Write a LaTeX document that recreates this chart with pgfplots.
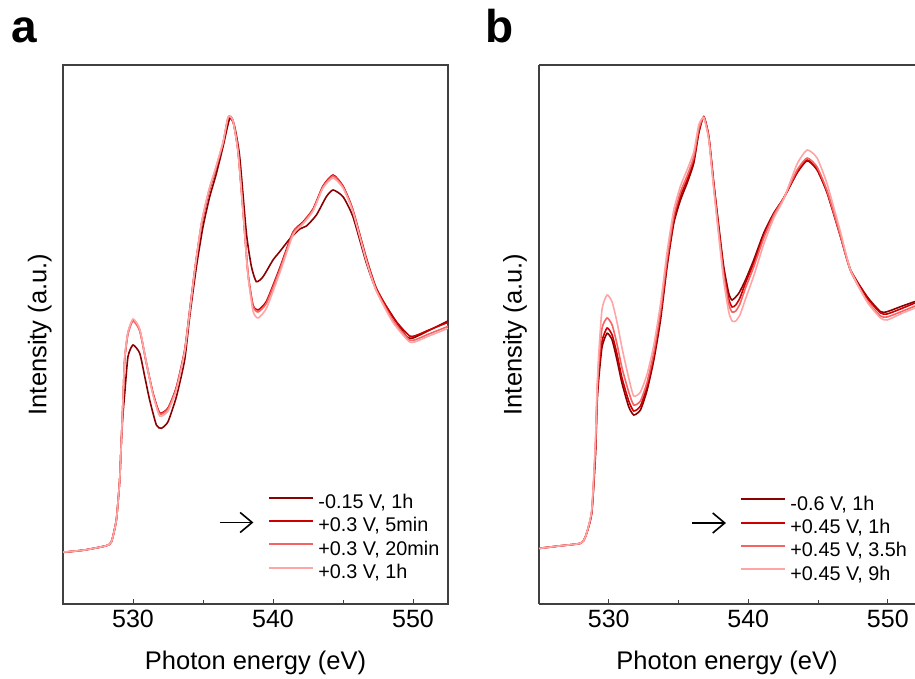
\documentclass[border=0pt]{standalone}
\usepackage{pgfplots}
\pgfplotsset{compat=1.18}
\usepackage{pgfplotstable}
\usepackage{fontspec}
\setmainfont{Liberation Sans}
\usetikzlibrary{arrows.meta}

\definecolor{cdark}{RGB}{139,0,0}
\definecolor{cred}{RGB}{204,0,0}
\definecolor{csalmon}{RGB}{245,100,100}
\definecolor{cpink}{RGB}{255,165,165}

% Panel a: -0.15 V, 1h
\pgfplotstableread{
x y
525.0 51.7
526.55 54
528.10 58.3
528.46 62.3
528.81 84
529.05 124
529.17 164
529.29 191
529.41 210.7
529.64 247.3
530.0 259
530.48 250.7
530.84 227.3
531.19 204
531.67 179
532.03 175.7
532.50 182.3
533.10 207.3
533.69 244
534.05 287.3
534.53 337.3
535.00 377.3
535.48 407.3
535.96 430.7
536.43 457.3
536.91 485.7
537.26 477.3
537.62 447.3
538.10 370.7
538.46 337.3
538.81 322.3
539.29 327.3
540.0 344
540.48 352.3
541.19 365
541.91 375
542.39 378
543.10 389
543.81 407.3
544.29 414
545.0 407.3
545.71 387.3
546.67 341
547.38 314
548.57 287.3
549.54 267.3
550.0 266
550.96 272.3
552.39 282.3
552.5 283
}\tabAdark

% Panel a: +0.3 V, 5min / 20min / 1h
\pgfplotstableread{
x a b c
525.0 51.7 51.5 51.9
526.55 54 54 54
528.10 58.3 58.3 58.3
528.46 62.3 62.3 62.3
528.81 84 84 84
529.05 124 124 124
529.17 164 164 164
529.29 205 205 205
529.41 245 246 247
529.64 271 270 272
530.0 284 283 285
530.48 274 273 275
530.96 241 240 241
531.43 211 210 209
531.91 191 190 188
532.50 196 195 193
533.10 217 216 214
533.69 254 253 252
534.05 294 293 292
534.45 338 338 338
534.90 380 381 382
535.40 411 412 413
535.90 434 435 436
536.43 460 461 462
536.80 486 487 487
537.14 483 484 483
537.50 453 454 452
537.86 393 394 392
538.21 331 331 329
538.57 299 298 293
538.93 294 292 286
539.54 303 301 296
540.48 336 334 331
541.43 372 371 369
542.14 382 381 380
542.86 395 394 393
543.57 418 417 416
544.29 429 428 426
545.00 418 417 416
545.69 395 394 393
546.67 346 344 343
547.38 316 314 313
548.55 287 284 282
549.76 268 264 262
550.48 270 266 264
550.96 273 269 267
552.39 281 277 275
552.5 282 278 276
}\tabAlight

% Panel b: -0.6 V, 1h
\pgfplotstableread{
x y
525.0 55.7
526.42 58
527.97 60.7
528.33 67.3
528.78 91
529.05 150
529.16 200
529.28 225
529.52 257.3
529.88 270.7
530.24 264
530.59 244
530.95 220.7
531.43 197.3
531.79 189
532.27 194
532.75 214
533.23 244
533.71 284
534.18 337.3
534.66 380.7
535.14 404
535.61 420.7
536.09 440.7
536.45 470.7
536.81 487.3
537.17 467.3
537.53 420.7
537.89 377.3
538.24 337.3
538.60 310.7
538.84 304
539.32 310.7
539.80 324
540.39 344
541.11 371
541.83 391
542.54 406
543.50 431
544.22 443.3
544.93 434
545.65 411
546.61 367.3
547.33 334
548.52 307.3
549.48 292.3
549.95 292.3
550.91 297.3
551.95 302.5
}\tabBdark

% Panel b: +0.45 V, 1h / 3.5h / 9h
\pgfplotstableread{
x a b c
525.0 55.5 55.5 55.5
526.42 58 58 58
527.97 60.7 60.7 60.7
528.33 67.3 67.3 67.3
528.78 92 93 94
529.05 155 160 165
529.16 205 210 215
529.28 232 240 250
529.52 263 276 295
529.88 276 286 309
530.24 269 279 302
530.59 250 260 282
530.95 226 236 256
531.43 203 212 226
531.79 193 199 208
532.27 198 203 212
532.75 218 222 230
533.23 248 252 259
533.71 289 293 300
534.18 341 345 352
534.66 384 388 394
535.14 408 412 418
535.61 424 428 434
536.09 444 447 452
536.45 473 475 479
536.81 487 487 486
537.17 467 466 464
537.53 419 417 414
537.89 374 371 367
538.24 333 329 323
538.60 305 300 292
538.84 297 292 283
539.10 299 293 283
539.40 306 300 289
539.80 321 316 305
540.39 341 337 328
541.11 369 366 360
541.83 390 389 386
542.54 406 406 405
543.50 432 434 440
544.22 444 446 454
544.93 435 437 446
545.65 412 413 420
546.61 368 368 372
547.33 334 333 334
548.52 306 303 302
549.48 291 288 286
549.95 290 287 284
550.91 295 292 290
551.95 301 298 296
}\tabBlight

\pgfplotsset{
  panel/.style={
    scale only axis,
    height=269.5pt,
    ymin=0, ymax=539,
    ytick=\empty,
    xtick={530,540,550},
    minor xtick={535,545},
    xtick pos=left,
    tick align=inside,
    major tick length=2.5pt,
    minor tick length=2pt,
    axis line style={black!75, line width=0.6pt},
    every tick/.style={black!75, line width=0.5pt},
    /pgf/number format/assume math mode=true,
    ticklabel style={font=\fontsize{12.5}{14}\selectfont},
    xticklabel style={anchor=base, yshift=-12pt},
    xlabel={Photon energy (eV)},
    ylabel={Intensity (a.u.)},
    label style={font=\fontsize{12.75}{14}\selectfont},
    xlabel style={at={(axis description cs:0.5,0)}, anchor=base, yshift=-33pt},
    legend cell align=left,
    legend style={draw=none, fill=none, inner sep=0pt, outer sep=0pt,
      row sep=2.7pt, column sep=2.4pt,
      font=\fontsize{9.9}{12}\selectfont,
      nodes={inner sep=0pt, text height=7pt, text depth=2pt}},
    legend image code/.code={\draw[##1, line width=1pt] (0pt,3pt) -- (21.8pt,3pt);},
    every axis plot/.append style={line width=0.8pt, smooth, tension=0.35},
  }
}

\begin{document}
\begin{tikzpicture}
\useasboundingbox (0,0) rectangle (457.5pt,339.5pt);

\begin{axis}[panel,
  at={(31.5pt,37.5pt)}, anchor=south west,
  width=192.5pt,
  xmin=525, xmax=552.5,
  ylabel style={at={(axis description cs:-0.06,0.5)}, anchor=center},
  legend style={at={(rel axis cs:0.5325,0.203)}, anchor=north west},
]
\addplot[color=cdark] table[x=x,y=y] {\tabAdark};
\addlegendentry{-0.15 V, 1h}
\addplot[color=cred] table[x=x,y=a] {\tabAlight};
\addlegendentry{+0.3 V, 5min}
\addplot[color=csalmon] table[x=x,y=b] {\tabAlight};
\addlegendentry{+0.3 V, 20min}
\addplot[color=cpink] table[x=x,y=c] {\tabAlight};
\addlegendentry{+0.3 V, 1h}
\draw[-{Straight Barb[length=6pt,width=10pt]}, line width=0.8pt] (axis cs:536.2,81.5) -- (axis cs:538.6,81.5);
\end{axis}

\begin{axis}[panel,
  at={(269.5pt,37.5pt)}, anchor=south west,
  width=188pt,
  xmin=525, xmax=551.95,
  axis y line*=left,
  ylabel style={at={(axis description cs:-0.064,0.5)}, anchor=center},
  legend style={at={(rel axis cs:0.5346,0.2)}, anchor=north west},
]
\addplot[color=cdark] table[x=x,y=y] {\tabBdark};
\addlegendentry{-0.6 V, 1h}
\addplot[color=cred] table[x=x,y=a] {\tabBlight};
\addlegendentry{+0.45 V, 1h}
\addplot[color=csalmon] table[x=x,y=b] {\tabBlight};
\addlegendentry{+0.45 V, 3.5h}
\addplot[color=cpink] table[x=x,y=c] {\tabBlight};
\addlegendentry{+0.45 V, 9h}
\draw[-{Straight Barb[length=6pt,width=10pt]}, line width=0.8pt] (axis cs:536.0,81) -- (axis cs:538.4,81);
\end{axis}

\node[anchor=base west, inner sep=0pt, font=\bfseries\fontsize{23}{23}\selectfont] at (5.5pt,318pt) {a};
\node[anchor=base west, inner sep=0pt, font=\bfseries\fontsize{23}{23}\selectfont] at (242.5pt,318pt) {b};
\end{tikzpicture}
\end{document}
